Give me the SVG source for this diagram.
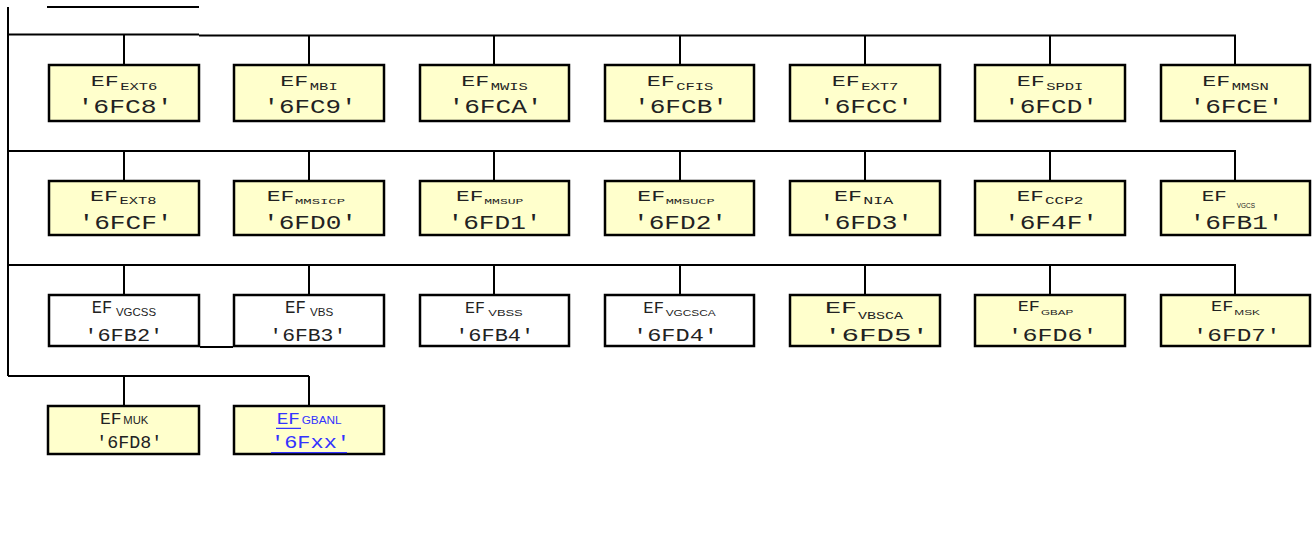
<svg xmlns="http://www.w3.org/2000/svg" width="1316" height="538" viewBox="0 0 1316 538">
<style>
.ln{stroke:#000;stroke-width:2;fill:none}
.by{fill:#ffffcc;stroke:#000;stroke-width:2.5}
.bw{fill:#ffffff;stroke:#000;stroke-width:2.5}
.m{font-family:"Liberation Mono","DejaVu Sans Mono",monospace;fill:#222}
.s{font-family:"Liberation Sans",Arial,sans-serif;fill:#222}
.blue{fill:#3333ff}
.ul{stroke:#3333ff;stroke-width:1.3}
</style>
<rect width="1316" height="538" fill="#fff"/>
<g id="connectors">
<path class="ln" d="M47 7H199"/>
<path class="ln" d="M8 7V376"/>
<path class="ln" d="M8 34.5H199M199 35.5H1236"/>
<path class="ln" d="M124 35V64M309 35V64M494 35V64M680 35V64M865 35V64M1050 35V64M1235 35V64"/>
<path class="ln" d="M8 151H1236"/>
<path class="ln" d="M124 151V180M309 151V180M494 151V180M680 151V180M865 151V180M1050 151V180M1235 151V180"/>
<path class="ln" d="M8 265H1236"/>
<path class="ln" d="M124 265V294M309 265V294M494 265V294M680 265V294M865 265V294M1050 265V294M1235 265V294"/>
<path class="ln" d="M200 347H233"/>
<path class="ln" d="M8 376H309"/>
<path class="ln" d="M124 376V405M309 376V405"/>
</g>
<!-- Row 1 -->
<g id="ef-ext6"><rect class="by" x="49" y="65" width="150" height="56"/>
<text class="m" x="90.7" y="86" font-size="15" textLength="28" lengthAdjust="spacingAndGlyphs">EF</text>
<text class="m" x="120.2" y="90" font-size="10" textLength="37.2" lengthAdjust="spacingAndGlyphs">EXT6</text>
<text class="m" x="125" y="113" font-size="21" text-anchor="middle" textLength="95" lengthAdjust="spacingAndGlyphs">'6FC8'</text></g>
<g id="ef-mbi"><rect class="by" x="234" y="65" width="150" height="56"/>
<text class="m" x="280.3" y="86" font-size="15" textLength="28" lengthAdjust="spacingAndGlyphs">EF</text>
<text class="m" x="309.8" y="90" font-size="10" textLength="27.9" lengthAdjust="spacingAndGlyphs">MBI</text>
<text class="m" x="310" y="113" font-size="21" text-anchor="middle" textLength="93" lengthAdjust="spacingAndGlyphs">'6FC9'</text></g>
<g id="ef-mwis"><rect class="by" x="420" y="65" width="149" height="56"/>
<text class="m" x="461.2" y="86" font-size="15" textLength="28" lengthAdjust="spacingAndGlyphs">EF</text>
<text class="m" x="490.7" y="90" font-size="10" textLength="37.2" lengthAdjust="spacingAndGlyphs">MWIS</text>
<text class="m" x="495.5" y="113" font-size="21" text-anchor="middle" textLength="94" lengthAdjust="spacingAndGlyphs">'6FCA'</text></g>
<g id="ef-cfis"><rect class="by" x="605" y="65" width="149" height="56"/>
<text class="m" x="646.7" y="86" font-size="15" textLength="28" lengthAdjust="spacingAndGlyphs">EF</text>
<text class="m" x="676.2" y="90" font-size="10" textLength="37.2" lengthAdjust="spacingAndGlyphs">CFIS</text>
<text class="m" x="681" y="113" font-size="21" text-anchor="middle" textLength="94" lengthAdjust="spacingAndGlyphs">'6FCB'</text></g>
<g id="ef-ext7"><rect class="by" x="790" y="65" width="150" height="56"/>
<text class="m" x="831.7" y="86" font-size="15" textLength="28" lengthAdjust="spacingAndGlyphs">EF</text>
<text class="m" x="861.2" y="90" font-size="10" textLength="37.2" lengthAdjust="spacingAndGlyphs">EXT7</text>
<text class="m" x="866" y="113" font-size="21" text-anchor="middle" textLength="94" lengthAdjust="spacingAndGlyphs">'6FCC'</text></g>
<g id="ef-spdi"><rect class="by" x="975" y="65" width="150" height="56"/>
<text class="m" x="1016.7" y="86" font-size="15" textLength="28" lengthAdjust="spacingAndGlyphs">EF</text>
<text class="m" x="1046.2" y="90" font-size="10" textLength="37.2" lengthAdjust="spacingAndGlyphs">SPDI</text>
<text class="m" x="1051" y="113" font-size="21" text-anchor="middle" textLength="94" lengthAdjust="spacingAndGlyphs">'6FCD'</text></g>
<g id="ef-mmsn"><rect class="by" x="1161" y="65" width="149" height="56"/>
<text class="m" x="1202.2" y="86" font-size="15" textLength="28" lengthAdjust="spacingAndGlyphs">EF</text>
<text class="m" x="1231.7" y="90" font-size="10" textLength="37.2" lengthAdjust="spacingAndGlyphs">MMSN</text>
<text class="m" x="1236.5" y="113" font-size="21" text-anchor="middle" textLength="94" lengthAdjust="spacingAndGlyphs">'6FCE'</text></g>
<!-- Row 2 -->
<g id="ef-ext8"><rect class="by" x="49" y="181" width="150" height="54"/>
<text class="m" x="90" y="201" font-size="14.5" textLength="28" lengthAdjust="spacingAndGlyphs">EF</text>
<text class="m" x="119.5" y="204" font-size="10" textLength="37" lengthAdjust="spacingAndGlyphs">EXT8</text>
<text class="m" x="125.5" y="229.3" font-size="20.5" text-anchor="middle" textLength="94" lengthAdjust="spacingAndGlyphs">'6FCF'</text></g>
<g id="ef-mmsicp"><rect class="by" x="234" y="181" width="150" height="54"/>
<text class="m" x="266.7" y="201" font-size="14.5" textLength="27.5" lengthAdjust="spacingAndGlyphs">EF</text>
<text class="m" x="295" y="204" font-size="8" textLength="50" lengthAdjust="spacingAndGlyphs">MMSICP</text>
<text class="m" x="310" y="229.3" font-size="20.5" text-anchor="middle" textLength="94" lengthAdjust="spacingAndGlyphs">'6FD0'</text></g>
<g id="ef-mmsup"><rect class="by" x="420" y="181" width="149" height="54"/>
<text class="m" x="456" y="201" font-size="14.5" textLength="27.3" lengthAdjust="spacingAndGlyphs">EF</text>
<text class="m" x="484.3" y="204" font-size="8" textLength="39" lengthAdjust="spacingAndGlyphs">MMSUP</text>
<text class="m" x="494.5" y="229.3" font-size="20.5" text-anchor="middle" textLength="94" lengthAdjust="spacingAndGlyphs">'6FD1'</text></g>
<g id="ef-mmsucp"><rect class="by" x="605" y="181" width="149" height="54"/>
<text class="m" x="637.3" y="201" font-size="14.5" textLength="27.7" lengthAdjust="spacingAndGlyphs">EF</text>
<text class="m" x="665.7" y="204" font-size="8" textLength="49" lengthAdjust="spacingAndGlyphs">MMSUCP</text>
<text class="m" x="680" y="229.3" font-size="20.5" text-anchor="middle" textLength="94" lengthAdjust="spacingAndGlyphs">'6FD2'</text></g>
<g id="ef-nia"><rect class="by" x="790" y="181" width="150" height="54"/>
<text class="m" x="834" y="201" font-size="14.5" textLength="28" lengthAdjust="spacingAndGlyphs">EF</text>
<text class="m" x="863.3" y="204" font-size="10" textLength="30" lengthAdjust="spacingAndGlyphs">NIA</text>
<text class="m" x="866" y="229.3" font-size="20.5" text-anchor="middle" textLength="94" lengthAdjust="spacingAndGlyphs">'6FD3'</text></g>
<g id="ef-ccp2"><rect class="by" x="975" y="181" width="150" height="54"/>
<text class="m" x="1016.7" y="201" font-size="14.5" textLength="27" lengthAdjust="spacingAndGlyphs">EF</text>
<text class="m" x="1045" y="204" font-size="10" textLength="38.3" lengthAdjust="spacingAndGlyphs">CCP2</text>
<text class="m" x="1051" y="229.3" font-size="20.5" text-anchor="middle" textLength="94" lengthAdjust="spacingAndGlyphs">'6F4F'</text></g>
<g id="ef-vgcs"><rect class="by" x="1161" y="181" width="149" height="54"/>
<text class="m" x="1201.7" y="201" font-size="14.5" textLength="25" lengthAdjust="spacingAndGlyphs">EF</text>
<text class="s" x="1236.7" y="207.7" font-size="6.3" textLength="18.3" lengthAdjust="spacingAndGlyphs">VGCS</text>
<text class="m" x="1236.5" y="229.3" font-size="20.5" text-anchor="middle" textLength="94" lengthAdjust="spacingAndGlyphs">'6FB1'</text></g>
<!-- Row 3 -->
<g id="ef-vgcss"><rect class="bw" x="49" y="295" width="150" height="51"/>
<text class="m" x="91.7" y="313" font-size="17.5" textLength="20.5" lengthAdjust="spacingAndGlyphs">EF</text>
<text class="s" x="116" y="316" font-size="11.5" textLength="40" lengthAdjust="spacingAndGlyphs">VGCSS</text>
<text class="m" x="123.8" y="340.5" font-size="18.5" text-anchor="middle" textLength="79" lengthAdjust="spacingAndGlyphs">'6FB2'</text></g>
<g id="ef-vbs"><rect class="bw" x="234" y="295" width="150" height="51"/>
<text class="m" x="285" y="313" font-size="17.5" textLength="21" lengthAdjust="spacingAndGlyphs">EF</text>
<text class="s" x="310" y="316" font-size="11.5" textLength="23.3" lengthAdjust="spacingAndGlyphs">VBS</text>
<text class="m" x="307.8" y="340.5" font-size="18.5" text-anchor="middle" textLength="77" lengthAdjust="spacingAndGlyphs">'6FB3'</text></g>
<g id="ef-vbss"><rect class="bw" x="420" y="295" width="149" height="51"/>
<text class="m" x="465" y="313" font-size="16" textLength="20" lengthAdjust="spacingAndGlyphs">EF</text>
<text class="s" x="488.3" y="316" font-size="9.3" textLength="34.4" lengthAdjust="spacingAndGlyphs">VBSS</text>
<text class="m" x="494.7" y="340.5" font-size="18.5" text-anchor="middle" textLength="79" lengthAdjust="spacingAndGlyphs">'6FB4'</text></g>
<g id="ef-vgcsca"><rect class="bw" x="605" y="295" width="149" height="51"/>
<text class="m" x="643.3" y="313" font-size="16.5" textLength="20.7" lengthAdjust="spacingAndGlyphs">EF</text>
<text class="s" x="665.7" y="316" font-size="8.4" textLength="50" lengthAdjust="spacingAndGlyphs">VGCSCA</text>
<text class="m" x="675.5" y="340.5" font-size="18.5" text-anchor="middle" textLength="85" lengthAdjust="spacingAndGlyphs">'6FD4'</text></g>
<g id="ef-vbsca"><rect class="by" x="790" y="295" width="150" height="51"/>
<text class="m" x="825" y="313" font-size="17" textLength="32" lengthAdjust="spacingAndGlyphs">EF</text>
<text class="m" x="858" y="318.5" font-size="11.5" textLength="45" lengthAdjust="spacingAndGlyphs">VBSCA</text>
<text class="m" x="876.5" y="340.5" font-size="18.5" text-anchor="middle" textLength="105" lengthAdjust="spacingAndGlyphs">'6FD5'</text></g>
<g id="ef-gbap"><rect class="by" x="975" y="295" width="150" height="51"/>
<text class="m" x="1017.7" y="310.5" font-size="14" textLength="22.3" lengthAdjust="spacingAndGlyphs">EF</text>
<text class="s" x="1041" y="315.3" font-size="7.5" textLength="32.3" lengthAdjust="spacingAndGlyphs">GBAP</text>
<text class="m" x="1052.5" y="340.5" font-size="18.5" text-anchor="middle" textLength="90" lengthAdjust="spacingAndGlyphs">'6FD6'</text></g>
<g id="ef-msk"><rect class="by" x="1161" y="295" width="149" height="51"/>
<text class="m" x="1211" y="310.5" font-size="14" textLength="22.3" lengthAdjust="spacingAndGlyphs">EF</text>
<text class="s" x="1234.3" y="315.3" font-size="7.5" textLength="25.7" lengthAdjust="spacingAndGlyphs">MSK</text>
<text class="m" x="1236.7" y="340.5" font-size="18.5" text-anchor="middle" textLength="88" lengthAdjust="spacingAndGlyphs">'6FD7'</text></g>
<!-- Row 4 -->
<g id="ef-muk"><rect class="by" x="48" y="406" width="151" height="48"/>
<text class="m" x="100" y="424.3" font-size="16.5" textLength="21.7" lengthAdjust="spacingAndGlyphs">EF</text>
<text class="s" x="123.3" y="424.3" font-size="10.5" textLength="25" lengthAdjust="spacingAndGlyphs">MUK</text>
<text class="m" x="129.2" y="448.3" font-size="17.7" text-anchor="middle" textLength="66" lengthAdjust="spacingAndGlyphs">'6FD8'</text></g>
<g id="ef-gbanl"><rect class="by" x="234" y="406" width="150" height="48"/>
<text class="m blue" x="276.7" y="424.3" font-size="16.5" textLength="23.3" lengthAdjust="spacingAndGlyphs">EF</text>
<text class="s blue" x="301.7" y="424.3" font-size="10.5" textLength="40" lengthAdjust="spacingAndGlyphs">GBANL</text>
<text class="m blue" x="310.5" y="448.3" font-size="17.7" text-anchor="middle" textLength="79" lengthAdjust="spacingAndGlyphs">'6Fxx'</text>
<path class="ul" d="M276 428.3H301M271 452.7H347"/></g>
</svg>
